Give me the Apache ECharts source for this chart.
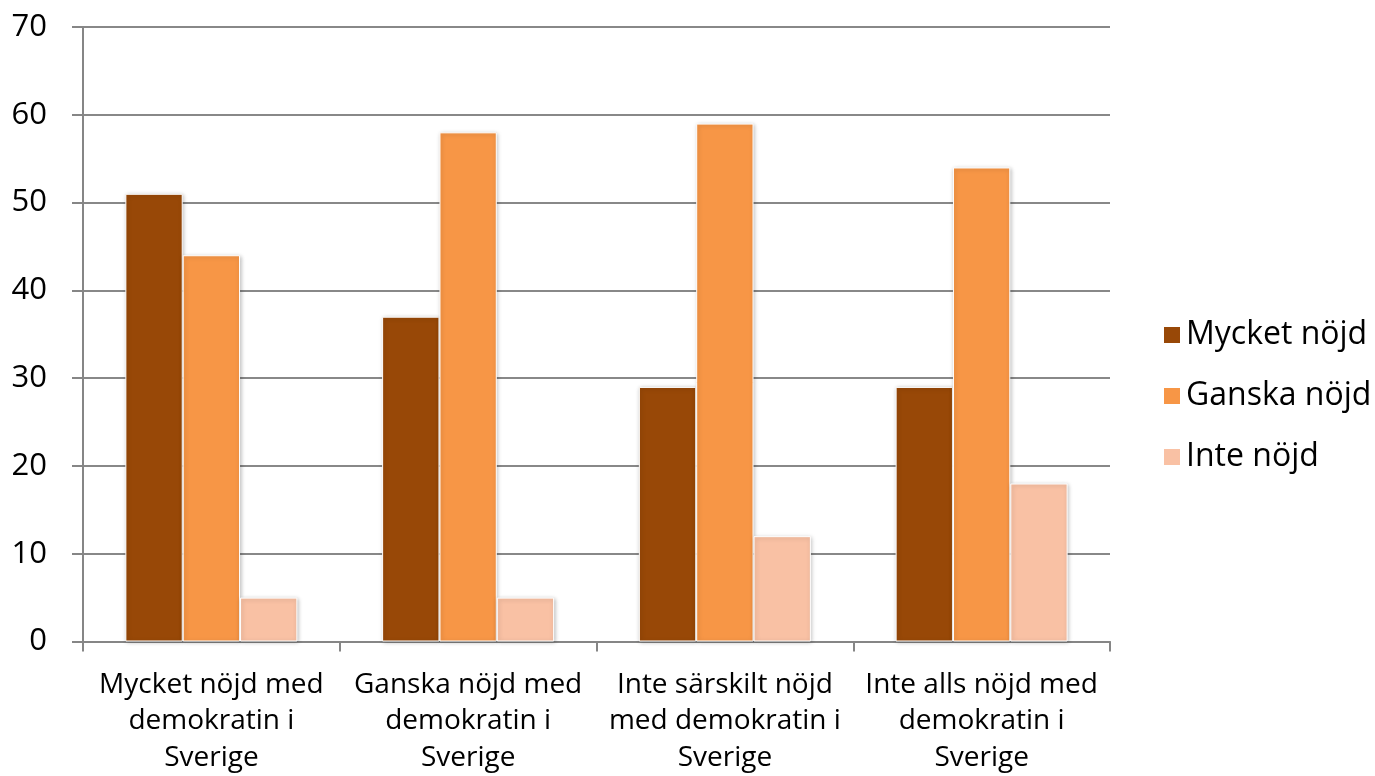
<!DOCTYPE html>
<html>
<head>
<meta charset="utf-8">
<script src="https://cdn.jsdelivr.net/npm/echarts@6/dist/echarts.min.js"></script>
<style>html,body{margin:0;padding:0;background:#fff;}#chart{width:1375px;height:776px;}</style>
</head>
<body>
<div id="chart"></div>
<script>
var categories = [
  "Mycket nöjd med\ndemokratin i\nSverige",
  "Ganska nöjd med\ndemokratin i\nSverige",
  "Inte särskilt nöjd\nmed demokratin i\nSverige",
  "Inte alls nöjd med\ndemokratin i\nSverige"
];
var seriesNames = ["Mycket nöjd", "Ganska nöjd", "Inte nöjd"];
var mycketNojd = [51, 37, 29, 29];
var ganskaNojd = [44, 58, 59, 54];
var inteNojd = [5, 5, 12, 18];
var colors = ["#984807", "#F79646", "#F9C1A4"];
var FONT = "Open Sans";

var chart = echarts.init(document.getElementById('chart'));
function mk(name, data, color) {
  return {
    name: name, type: 'bar', data: data, barGap: '0%', barCategoryGap: '33%',
    itemStyle: { color: color, borderColor: '#ffffff', borderWidth: 1,
      shadowBlur: 4, shadowColor: 'rgba(0,0,0,0.25)', shadowOffsetX: 1, shadowOffsetY: 1 }
  };
}
chart.setOption({
  animation: false,
  textStyle: { fontFamily: FONT },
  grid: { left: 83, right: 265, top: 27, bottom: 134, containLabel: false },
  legend: {
    orient: 'vertical', left: 1157, top: 314, itemWidth: 18, itemHeight: 18, itemGap: 29,
    icon: 'rect',
    textStyle: { fontFamily: FONT, fontSize: 32, color: '#000' },
    data: seriesNames
  },
  xAxis: {
    type: 'category', data: categories,
    axisLine: { lineStyle: { color: '#868686', width: 2 } },
    axisTick: { show: true, length: 10, lineStyle: { color: '#868686', width: 2 } },
    axisLabel: { fontFamily: FONT, fontSize: 28, color: '#000', lineHeight: 36.5, margin: 25, interval: 0 }
  },
  yAxis: {
    type: 'value', min: 0, max: 70, interval: 10,
    axisLine: { show: true, lineStyle: { color: '#868686', width: 2 } },
    axisTick: { show: true, length: 11, lineStyle: { color: '#868686', width: 2 } },
    axisLabel: { fontFamily: FONT, fontSize: 31, color: '#000', margin: 36 },
    splitLine: { lineStyle: { color: '#888888', width: 2 } }
  },
  series: [
    mk(seriesNames[0], mycketNojd, colors[0]),
    mk(seriesNames[1], ganskaNojd, colors[1]),
    mk(seriesNames[2], inteNojd, colors[2])
  ]
});
</script>
</body>
</html>
